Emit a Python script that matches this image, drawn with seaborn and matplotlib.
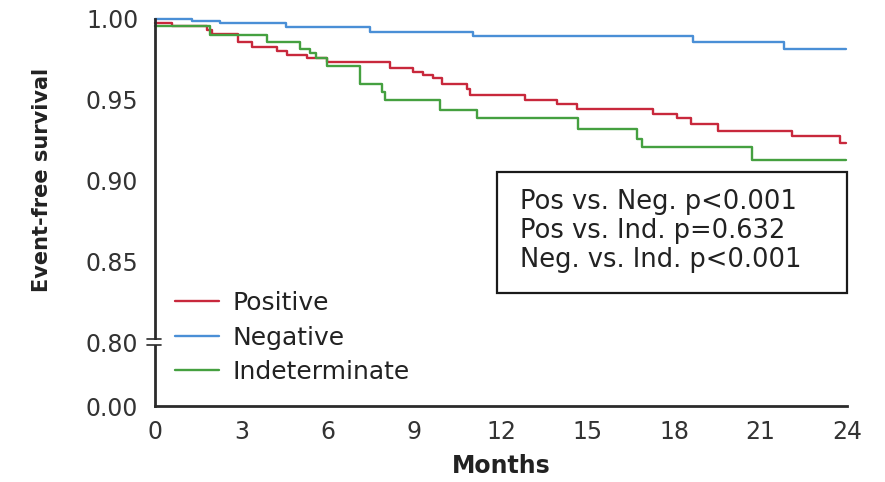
import matplotlib
matplotlib.use("Agg")
import matplotlib.pyplot as plt
import seaborn as sns
import pandas as pd
import numpy as np
from matplotlib.patches import Rectangle
from matplotlib.lines import Line2D

# ---- data ----
groups = ["Positive", "Negative", "Indeterminate"]

pos_months = [0, 0.58, 1.79, 1.97, 2.89, 3.35, 4.22, 4.57, 5.26, 5.96, 8.15, 8.96, 9.31,
              9.65, 9.94, 10.81, 10.93, 12.83, 13.93, 14.63, 17.28, 18.1, 18.6, 19.54,
              22.08, 23.76, 23.95]
pos_surv = [0.9973, 0.9957, 0.9932, 0.9907, 0.9855, 0.9828, 0.9803, 0.9777, 0.9756, 0.9735,
            0.9698, 0.9673, 0.9653, 0.9632, 0.9600, 0.9564, 0.9529, 0.9498, 0.9473, 0.9440,
            0.9411, 0.9384, 0.9348, 0.9308, 0.9275, 0.9233, 0.9233]

neg_months = [0, 1.3, 2.25, 4.55, 7.46, 11.03, 18.66, 21.8, 23.95]
neg_surv = [1.0, 0.999, 0.9975, 0.995, 0.9918, 0.9892, 0.986, 0.9816, 0.9816]

ind_months = [0, 1.9, 3.87, 5.03, 5.38, 5.6, 5.96, 7.11, 7.86, 7.98, 9.89, 11.16, 14.68,
              16.7, 16.88, 20.7, 23.95]
ind_surv = [0.9957, 0.990, 0.9855, 0.9812, 0.9787, 0.9756, 0.9706, 0.9595, 0.9545, 0.9498,
            0.9438, 0.9387, 0.9322, 0.926, 0.9208, 0.913, 0.913]

x_ticks = [0, 3, 6, 9, 12, 15, 18, 21, 24]
y_tick_values = [0.80, 0.85, 0.90, 0.95, 1.00]
y_tick_labels = ["0.00", "0.80", "0.85", "0.90", "0.95", "1.00"]
pvalue_lines = ["Pos vs. Neg. p<0.001", "Pos vs. Ind. p=0.632", "Neg. vs. Ind. p<0.001"]

colors = {"Positive": "#c8283c", "Negative": "#4a8fd6", "Indeterminate": "#45a040"}

df = pd.concat([
    pd.DataFrame({"Months": pos_months, "Survival": pos_surv, "Group": "Positive"}),
    pd.DataFrame({"Months": neg_months, "Survival": neg_surv, "Group": "Negative"}),
    pd.DataFrame({"Months": ind_months, "Survival": ind_surv, "Group": "Indeterminate"}),
], ignore_index=True)

# ---- figure ----
sns.set_style("white")
plt.rcParams["font.family"] = ["DejaVu Sans"]

W, H = 885, 482
fig = plt.figure(figsize=(W / 100, H / 100), dpi=100)
L, R, T, B = 155, 847, 19, 406
ax = fig.add_axes([L / W, 1 - B / H, (R - L) / W, (B - T) / H])

sns.lineplot(data=df, x="Months", y="Survival", hue="Group", hue_order=groups,
             palette=colors, drawstyle="steps-post", estimator=None, sort=False,
             linewidth=1.7, ax=ax, legend=True)
for ln in ax.lines:
    ln.set_clip_on(False)

y_bottom = 0.7604
ax.set_xlim(0, 24)
ax.set_ylim(y_bottom, 1.0)

ax.set_xticks(x_ticks)
ax.set_xticklabels([str(t) for t in x_ticks])
ax.set_yticks([y_bottom] + y_tick_values)
ax.set_yticklabels(y_tick_labels)

dark = "#2b2b2b"
for s in ["top", "right"]:
    ax.spines[s].set_visible(False)
for s in ["left", "bottom"]:
    ax.spines[s].set_color(dark)
    ax.spines[s].set_linewidth(2.0)

ax.tick_params(axis="both", colors=dark, labelcolor="#333333", labelsize=17,
               width=1.2, direction="out")
ax.tick_params(axis="y", length=6, pad=6)
ax.tick_params(axis="x", length=5, pad=5)

ax.set_xlabel("Months", fontsize=17, fontweight="bold", color="#222222")
ax.set_ylabel("Event-free survival", fontsize=15, fontweight="bold", color="#222222")
ax.xaxis.set_label_coords(0.5, -0.125)
ax.yaxis.set_label_coords(-0.149, 0.584)

# legend
leg = ax.legend(loc="upper left", bbox_to_anchor=(175 / W, 1 - 291 / H),
                bbox_transform=fig.transFigure, frameon=False, fontsize=18,
                handlelength=1.75, handletextpad=0.55, labelspacing=0.42,
                borderpad=0, borderaxespad=0)
for t in leg.get_texts():
    t.set_color("#222222")
for h in leg.get_lines():
    h.set_linewidth(1.7)

# p-value box
ax.add_patch(Rectangle((0.494, 0.292), 1.0 - 0.494, 0.605 - 0.292, transform=ax.transAxes,
                       fill=False, edgecolor="#1a1a1a", linewidth=1.6, clip_on=False))
for txt, yy in zip(pvalue_lines, [0.528, 0.452, 0.377]):
    ax.text(0.527, yy, txt, transform=ax.transAxes, fontsize=18.5, color="#222222",
            ha="left", va="center")

# axis break mark at 0.80
yb = 1 - 342 / H
fig.add_artist(Rectangle((149 / W, yb - 2.5 / H), 12 / W, 5 / H, transform=fig.transFigure,
                         facecolor="white", edgecolor="none", zorder=10))
for dy in (-3, 3):
    fig.add_artist(Line2D([147 / W, 161 / W], [yb + dy / H, yb + dy / H],
                          transform=fig.transFigure, color=dark, linewidth=1.2, zorder=11))

fig.savefig("out.png", dpi=100)
